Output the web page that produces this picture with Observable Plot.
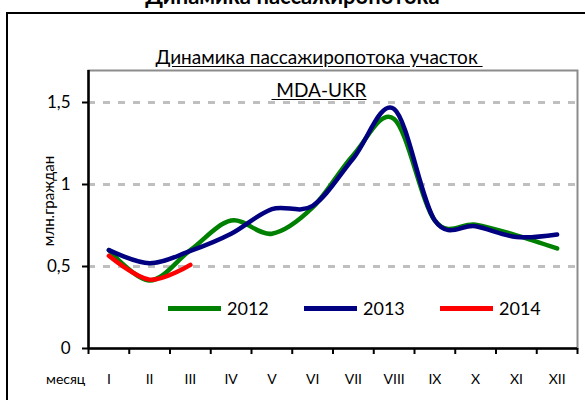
<!DOCTYPE html>
<html>
<head>
<meta charset="utf-8">
<script src="https://cdn.jsdelivr.net/npm/d3@7"></script>
<script src="https://cdn.jsdelivr.net/npm/@observablehq/plot@0.6"></script>
<style>
  body { margin: 0; background: #fff; }
  #wrap { position: relative; width: 585px; height: 400px; overflow: hidden; font-family: Lato, "Open Sans", sans-serif; color: #000; }
  #wrap svg { position: absolute; left: 0; top: 0; }
  .box { position: absolute; left: 6px; top: 12px; width: 700px; height: 500px; border: 2px solid #000; box-sizing: border-box; }
  .title { position: absolute; left: 0; width: 585px; top: -15px; text-align: center; font-weight: bold; font-size: 22px; line-height: 22px; }
  .sub { position: absolute; left: 0; width: 638px; text-align: center; font-size: 19px; line-height: 19px; white-space: pre; text-decoration: underline; text-underline-offset: 2px; }
  .ylab { position: absolute; left: 48px; top: 201px; transform: translate(-50%, -50%) rotate(-90deg); font-size: 15px; white-space: nowrap; }
  .xlab { position: absolute; left: 46px; top: 372px; font-size: 14px; line-height: 14px; }
  .legend { position: absolute; left: 168px; top: 297px; display: flex; }
  .item { width: 136px; display: flex; align-items: center; font-size: 18px; }
  .sw { width: 53px; height: 5px; margin-right: 6px; }
</style>
</head>
<body>
<div id="wrap"></div>
<script>
// ---- data ----
const months = ["I","II","III","IV","V","VI","VII","VIII","IX","X","XI","XII"];
const values2012 = [0.60, 0.415, 0.60, 0.78, 0.70, 0.86, 1.18, 1.40, 0.78, 0.755, 0.69, 0.61];
const values2013 = [0.60, 0.52, 0.595, 0.70, 0.85, 0.87, 1.16, 1.46, 0.78, 0.745, 0.68, 0.695];
const values2014 = [0.565, 0.42, 0.51];
const seriesNames = ["2012", "2013", "2014"];
const seriesColors = ["#008000", "#000080", "#ff0000"];
const yTicks = [0, 0.5, 1, 1.5];
const yTickLabels = ["0", "0,5", "1", "1,5"];
const titleText = "Динамика пассажиропотока";
const subtitle1 = "Динамика пассажиропотока участок ";
const subtitle2 = " MDA-UKR";
const yLabel = "млн.граждан";
const xLabel = "месяц";

const seriesValues = [values2012, values2013, values2014];
const rows = seriesValues.flatMap((vals, s) =>
  vals.map((v, i) => ({series: seriesNames[s], m: i + 1, v})));
const monthIdx = months.map((_, i) => i + 1);
const bounds = d3.range(months.length + 1).map(i => i + 0.5);
const labelOf = new Map(yTicks.map((t, i) => [t, yTickLabels[i]]));

const chart = Plot.plot({
  width: 585, height: 400,
  marginTop: 70, marginLeft: 88, marginRight: 8, marginBottom: 52,
  style: {fontFamily: "Lato, 'Open Sans', sans-serif", color: "#000", background: "transparent", overflow: "visible"},
  x: {domain: [0.5, months.length + 0.5]},
  y: {domain: [0, 1.5], range: [348, 102]},
  marks: [
    Plot.frame({stroke: "#8c8c8c", strokeWidth: 2}),
    Plot.gridY(yTicks.filter(d => d > 0), {stroke: "#bfbfbf", strokeOpacity: 1, strokeWidth: 3, strokeDasharray: "7,8"}),
    Plot.axisY(yTicks, {tickSize: 6, tickPadding: 12, strokeWidth: 2, tickFormat: d => labelOf.get(d), fontSize: 17, label: null}),
    Plot.axisX(bounds, {tickSize: 6, strokeWidth: 2, tickFormat: () => "", label: null}),
    Plot.axisX(monthIdx, {tickSize: 0, tickPadding: 26, tickFormat: i => months[i - 1], fontSize: 14, label: null}),
    Plot.ruleX([0.5], {stroke: "#000", strokeWidth: 2.5}),
    Plot.ruleY([0], {stroke: "#000", strokeWidth: 2.5}),
    ...seriesNames.map((name, s) =>
      Plot.line(rows.filter(d => d.series === name), {x: "m", y: "v", stroke: seriesColors[s], strokeWidth: 4.5, curve: "cardinal"}))
  ]
});

const wrap = document.getElementById("wrap");
const box = document.createElement("div"); box.className = "box"; wrap.appendChild(box);
wrap.appendChild(chart);
function addDiv(cls, text, css) {
  const d = document.createElement("div"); d.className = cls; d.textContent = text;
  if (css) Object.assign(d.style, css);
  wrap.appendChild(d); return d;
}
addDiv("title", titleText);
addDiv("sub", subtitle1, {top: "47px"});
addDiv("sub", subtitle2, {top: "80px"});
addDiv("ylab", yLabel);
addDiv("xlab", xLabel);
const legend = document.createElement("div"); legend.className = "legend";
seriesNames.forEach((name, s) => {
  const it = document.createElement("div"); it.className = "item";
  const sw = document.createElement("div"); sw.className = "sw"; sw.style.background = seriesColors[s];
  const tx = document.createElement("span"); tx.textContent = name;
  it.appendChild(sw); it.appendChild(tx); legend.appendChild(it);
});
wrap.appendChild(legend);
</script>
</body>
</html>
